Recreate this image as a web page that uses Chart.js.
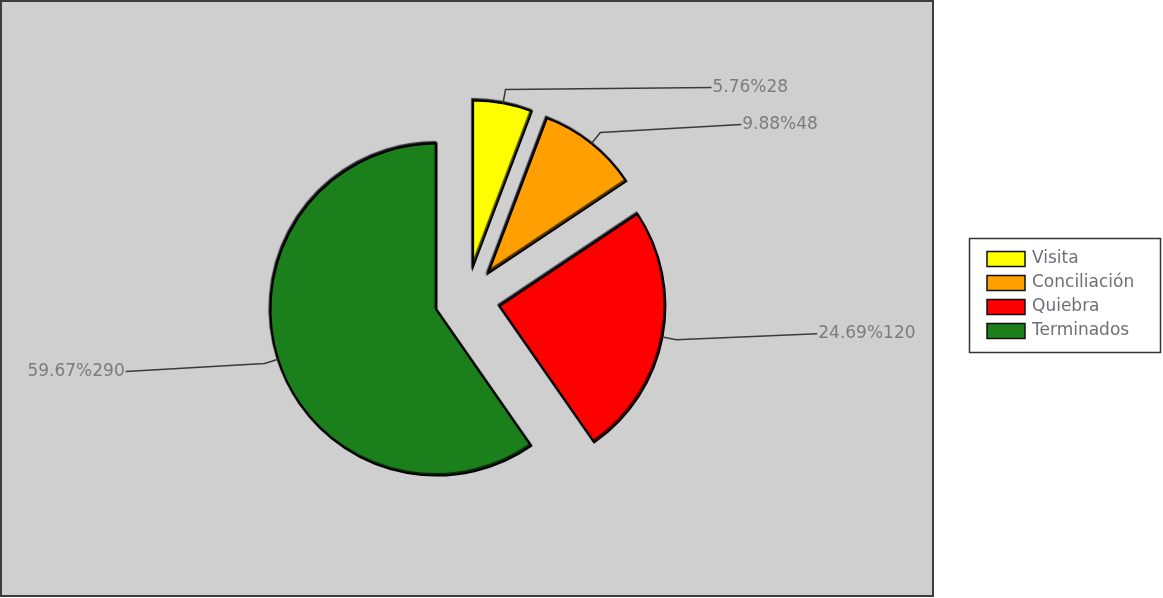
<!DOCTYPE html>
<html><head><meta charset="utf-8">
<script src="https://cdn.jsdelivr.net/npm/chart.js@4.4.1/dist/chart.umd.min.js"></script>
<style>html,body{margin:0;padding:0;background:#fff;overflow:hidden}#wrap{position:relative;width:1163px;height:598px}</style>
</head><body><div id="wrap"><canvas id="c" width="1163" height="598"></canvas></div>
<script>
// ---- data ----
const categories = ['Visita', 'Conciliación', 'Quiebra', 'Terminados'];
const counts = [28, 48, 120, 290];

// ---- styles ----
const sliceColors = ['#ffff00', '#ffa000', '#ff0000', '#1b801b'];
const explodeDist = [34, 34, 33, 32];
const labelShift = [[206, -2], [141, -8], [141, -6], [-139, 8]];
const FONT = '17px "DejaVu Sans", Verdana, sans-serif';

const total = counts.reduce((a, b) => a + b, 0);
const labelTexts = counts.map(v => (v / total * 100).toFixed(2) + '%' + v);

const bgPlugin = {
  id: 'bg',
  beforeDraw(chart) {
    const ctx = chart.ctx;
    ctx.save();
    ctx.fillStyle = '#ffffff';
    ctx.fillRect(0, 0, chart.width, chart.height);
    ctx.fillStyle = '#cfcfcf';
    ctx.fillRect(0, 0, 934, 597);
    ctx.strokeStyle = '#3c3c3c';
    ctx.lineWidth = 2;
    ctx.strokeRect(1, 1, 932, 595);
    ctx.restore();
  }
};

const explodePlugin = {
  id: 'explode',
  afterDatasetUpdate(chart, args) {
    args.meta.data.forEach((arc, i) => {
      const mid = (arc.startAngle + arc.endAngle) / 2;
      const d = explodeDist[i] || 0;
      arc.x += Math.cos(mid) * d;
      arc.y += Math.sin(mid) * d;
    });
  },
  beforeDatasetsDraw(chart) {
    const ctx = chart.ctx;
    ctx.save();
    ctx.shadowColor = 'rgba(0,0,0,0.75)';
    ctx.shadowOffsetX = -1;
    ctx.shadowOffsetY = -1.5;
    ctx.shadowBlur = 1;
  },
  afterDatasetsDraw(chart) {
    const ctx = chart.ctx;
    ctx.restore();
    const meta = chart.getDatasetMeta(0);
    ctx.save();
    ctx.font = FONT;
    ctx.textBaseline = 'middle';
    meta.data.forEach((arc, i) => {
      const mid = (arc.startAngle + arc.endAngle) / 2;
      const c = Math.cos(mid), s = Math.sin(mid);
      const r = arc.outerRadius;
      const p0 = [arc.x + c * r, arc.y + s * r];
      const p1 = [arc.x + c * (r + 14), arc.y + s * (r + 14)];
      const p2 = [p1[0] + labelShift[i][0], p1[1] + labelShift[i][1]];
      ctx.strokeStyle = '#3a3a3a';
      ctx.lineWidth = 1.5;
      ctx.beginPath();
      ctx.moveTo(p0[0], p0[1]);
      ctx.lineTo(p1[0], p1[1]);
      ctx.lineTo(p2[0], p2[1]);
      ctx.stroke();
      ctx.fillStyle = '#7c7c7c';
      if (labelShift[i][0] >= 0) {
        ctx.textAlign = 'left';
        ctx.fillText(labelTexts[i], p2[0] + 1, p2[1]);
      } else {
        ctx.textAlign = 'right';
        ctx.fillText(labelTexts[i], p2[0] - 1, p2[1]);
      }
    });
    ctx.restore();
  }
};

const legendPlugin = {
  id: 'boxLegend',
  afterDraw(chart) {
    const ctx = chart.ctx;
    const ds = chart.data.datasets[0];
    ctx.save();
    ctx.fillStyle = '#ffffff';
    ctx.fillRect(969, 238, 192, 115);
    ctx.strokeStyle = '#333333';
    ctx.lineWidth = 1.5;
    ctx.strokeRect(969.5, 238.5, 191, 114);
    ctx.font = FONT;
    ctx.textBaseline = 'middle';
    ctx.textAlign = 'left';
    chart.data.labels.forEach((lab, i) => {
      const cy = 259 + i * 24;
      ctx.fillStyle = ds.backgroundColor[i];
      ctx.fillRect(987, cy - 7.5, 38, 15);
      ctx.strokeStyle = '#111';
      ctx.lineWidth = 1.5;
      ctx.strokeRect(987, cy - 7.5, 38, 15);
      ctx.fillStyle = '#6f6f78';
      ctx.fillText(lab, 1032, cy);
    });
    ctx.restore();
  }
};

new Chart(document.getElementById('c'), {
  type: 'pie',
  data: {
    labels: categories,
    datasets: [{
      data: counts,
      backgroundColor: sliceColors,
      borderColor: '#000000',
      borderWidth: 2,
      borderJoinStyle: 'miter'
    }]
  },
  options: {
    responsive: false,
    animation: false,
    events: [],
    radius: 166,
    layout: { padding: { left: 0, right: 229, top: 2, bottom: 0 } },
    plugins: { legend: { display: false }, tooltip: { enabled: false } }
  },
  plugins: [bgPlugin, explodePlugin, legendPlugin]
});
</script>
</body></html>
